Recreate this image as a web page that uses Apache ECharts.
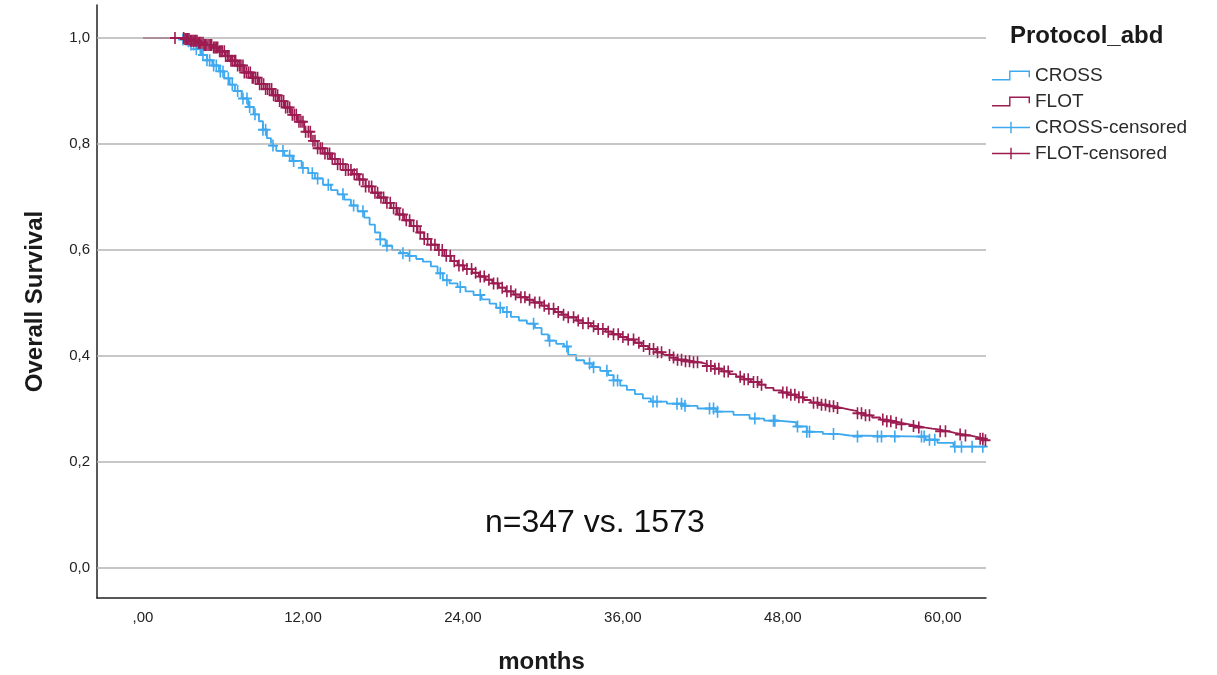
<!DOCTYPE html>
<html><head><meta charset="utf-8">
<script src="https://cdn.jsdelivr.net/npm/echarts@6/dist/echarts.min.js"></script>
<style>html,body{margin:0;padding:0;background:#fff}#c{width:1217px;height:675px}</style>
</head><body><div id="c"></div>
<script>
// ---- Data (months, survival) ----
const crossSurvival = [
[0,1],[2.9,0.997],[3.3,0.994],[3.6,0.988],[4.0,0.979],[4.4,0.968],[4.8,0.958],[5.2,0.948],[5.7,0.937],
[6.1,0.924],[6.5,0.912],[6.9,0.9],[7.4,0.886],[7.9,0.87],[8.3,0.856],[8.7,0.843],[9.0,0.827],[9.3,0.811],
[9.6,0.797],[10.0,0.787],[10.6,0.778],[11.2,0.768],[11.9,0.755],[12.4,0.745],[12.9,0.735],[13.5,0.723],
[14.1,0.713],[14.6,0.705],[15.1,0.695],[15.6,0.684],[16.1,0.673],[16.6,0.661],[17.0,0.648],[17.4,0.633],
[17.8,0.62],[18.2,0.608],[18.7,0.6],[19.3,0.594],[19.9,0.589],[20.5,0.583],[21.0,0.578],[21.6,0.569],
[22.1,0.556],[22.5,0.543],[23.0,0.537],[23.6,0.53],[24.2,0.522],[24.8,0.515],[25.4,0.507],[26.0,0.499],
[26.5,0.491],[27.0,0.483],[27.6,0.474],[28.2,0.467],[28.8,0.461],[29.4,0.453],[29.9,0.441],[30.4,0.429],
[31.0,0.423],[31.6,0.418],[31.9,0.402],[32.5,0.392],[33.1,0.386],[33.7,0.379],[34.3,0.372],[34.9,0.364],
[35.3,0.354],[35.8,0.344],[36.3,0.336],[36.9,0.328],[37.5,0.32],[38.1,0.314],[39.3,0.31],[40.5,0.306],
[41.6,0.301],[43.0,0.295],[44.3,0.289],[45.5,0.282],[46.6,0.278],[47.6,0.275],[49.0,0.267],[49.8,0.257],
[51.0,0.253],[52.1,0.25],[53.0,0.248],[58.7,0.242],[59.6,0.236],[60.8,0.229],[63.2,0.229]
];
const flotSurvival = [
[0,1],[3.1,0.998],[3.5,0.995],[4.1,0.991],[4.6,0.987],[5.2,0.982],[5.7,0.975],[6.2,0.966],[6.6,0.957],
[7.1,0.948],[7.6,0.935],[8.1,0.925],[8.7,0.913],[9.2,0.904],[9.7,0.892],[10.2,0.881],[10.6,0.869],
[11.1,0.855],[11.6,0.842],[12.1,0.823],[12.6,0.806],[13.1,0.792],[13.6,0.782],[14.1,0.772],[14.6,0.762],
[15.2,0.751],[15.7,0.743],[16.2,0.733],[16.7,0.72],[17.2,0.708],[17.7,0.699],[18.2,0.689],[18.6,0.679],
[19.1,0.667],[19.6,0.656],[20.1,0.645],[20.6,0.633],[21.1,0.621],[21.6,0.61],[22.1,0.6],[22.6,0.589],
[23.1,0.579],[23.6,0.571],[24.1,0.564],[24.7,0.557],[25.2,0.55],[25.7,0.544],[26.2,0.537],[26.7,0.529],
[27.2,0.522],[27.8,0.516],[28.3,0.511],[28.8,0.506],[29.3,0.501],[29.9,0.495],[30.4,0.489],[30.9,0.483],
[31.4,0.478],[31.9,0.473],[32.5,0.467],[33.0,0.462],[33.6,0.456],[34.1,0.451],[34.7,0.446],[35.2,0.441],
[35.8,0.436],[36.3,0.431],[36.9,0.425],[37.4,0.419],[37.9,0.413],[38.5,0.407],[39.0,0.402],[39.6,0.397],
[40.1,0.393],[40.7,0.39],[41.3,0.388],[41.8,0.385],[42.3,0.381],[42.9,0.376],[43.4,0.371],[44.0,0.366],
[44.5,0.361],[45.1,0.356],[45.6,0.351],[46.2,0.346],[46.7,0.34],[47.3,0.335],[47.9,0.331],[48.4,0.327],
[49.0,0.322],[49.6,0.317],[50.1,0.312],[50.7,0.308],[51.3,0.305],[51.9,0.302],[52.4,0.299],[53.0,0.296],
[53.6,0.292],[54.1,0.288],[54.7,0.284],[55.3,0.28],[55.8,0.277],[56.4,0.274],[56.9,0.271],[57.5,0.268],
[58.1,0.265],[58.7,0.263],[59.2,0.261],[59.8,0.258],[60.4,0.255],[60.9,0.252],[61.5,0.25],[62.1,0.247],
[62.6,0.244],[63.1,0.241],[63.2,0.241]
];
const crossCensoredTimes = [
3.0,3.2,3.4,3.6,3.8,4.0,4.3,4.5,4.8,5.0,5.3,5.5,5.8,6.0,6.4,6.7,7.1,7.5,7.8,8.0,8.4,9.0,9.2,9.75,10.5,
11.0,11.3,12.0,12.7,13.1,13.9,15.0,15.8,16.5,17.8,18.3,
19.5,20.0,22.3,22.8,23.8,25.3,26.8,27.3,29.3,30.5,31.8,33.5,33.8,34.8,35.3,35.6,
38.26,38.56,40.06,40.4,40.66,42.5,42.8,43.1,45.9,47.3,47.4,49.1,49.8,50.0,51.8,53.6,55.1,55.4,56.4,
58.4,58.6,59.0,59.4,60.9,61.4,62.2,63.0
];
const flotCensoredTimes = [
2.4,3.05,3.15,3.25,3.35,3.45,3.55,3.65,3.75,3.85,3.95,4.05,4.15,4.25,4.35,4.5,4.6,4.7,4.8,4.95,5.05,5.15,
5.3,5.4,5.5,5.6,5.75,5.85,5.95,6.1,6.2,6.35,6.45,6.6,6.7,6.85,6.95,7.1,7.25,7.35,7.5,7.6,7.75,7.9,8.05,
8.2,8.3,8.45,8.6,8.75,8.9,9.05,9.2,9.35,9.5,9.65,9.8,9.95,10.1,10.25,10.4,10.55,10.7,10.85,11.0,11.2,
11.35,11.5,11.7,11.85,12.0,12.2,12.4,12.55,12.75,12.9,13.1,13.3,13.45,13.65,13.85,14.0,14.2,14.4,14.6,
14.8,15.0,15.2,15.4,15.6,15.85,16.05,16.25,16.5,16.7,16.95,17.15,17.4,17.6,17.85,18.05,18.3,18.55,18.8,
19.0,19.25,19.5,19.75,20.0,20.3,20.55,20.8,21.1,21.35,21.6,21.9,22.2,22.45,22.75,23.05,23.35,23.7,24.0,
24.3,24.65,24.95,25.3,25.6,25.95,26.3,26.6,26.95,27.3,27.6,27.95,28.35,28.65,29.0,29.4,29.75,30.1,30.45,
30.8,31.15,31.55,31.9,32.3,32.65,33.0,33.4,33.8,34.15,34.5,34.9,35.3,35.65,36.0,36.4,36.8,37.2,37.55,
38.0,38.3,38.6,38.9,39.5,39.8,40.1,40.4,40.7,41.0,41.3,41.6,42.3,42.6,42.9,43.2,43.6,43.9,44.8,45.1,
45.4,45.8,46.1,46.4,48.0,48.3,48.6,48.9,49.2,49.5,50.3,50.6,50.9,51.2,51.5,51.8,52.1,53.6,53.9,54.2,
54.5,55.5,55.8,56.1,56.5,56.9,57.8,58.2,59.8,60.2,61.3,61.7,62.8,63.0,63.2
];
const yTicks = [0, 0.2, 0.4, 0.6, 0.8, 1.0];
const xTicks = [0, 12, 24, 36, 48, 60];
const groupNames = ['CROSS', 'FLOT', 'CROSS-censored', 'FLOT-censored'];
const legendTitle = 'Protocol_abd';
const annotationText = 'n=347 vs. 1573';

// ---- helpers ----
function survivalAt(curve, t) {
  let s = curve[0][1];
  for (const p of curve) { if (p[0] <= t) s = p[1]; else break; }
  return s;
}
const BLUE = '#3ea9ee', PURPLE = '#9c1c52';
const FONT = "'Liberation Sans', Arial, sans-serif";
const plusPath = 'path://M4.2,0H5.8V4.2H10V5.8H5.8V10H4.2V5.8H0V4.2H4.2Z';
const stepIcon = 'path://M0,10H18V1H40V8H38.5V2.5H19.5V11.5H0Z';
const plusIcon = 'path://M0,5.25H40V6.75H0Z M19.25,0H20.75V12H19.25Z';

const chart = echarts.init(document.getElementById('c'), null, {renderer: 'canvas'});
chart.setOption({
  animation: false,
  backgroundColor: '#fff',
  textStyle: {fontFamily: FONT},
  title: {text: legendTitle, left: 1005, top: 19,
    textStyle: {fontFamily: FONT, fontSize: 24, fontWeight: 'bold', color: '#1a1a1a'}},
  legend: {
    orient: 'vertical', left: 987, top: 61, itemWidth: 38, itemHeight: 12, itemGap: 7,
    textStyle: {fontFamily: FONT, fontSize: 19, color: '#2a2a2a'},
    data: [
      {name: groupNames[0], icon: stepIcon},
      {name: groupNames[1], icon: stepIcon},
      {name: groupNames[2], icon: plusIcon},
      {name: groupNames[3], icon: plusIcon}
    ]
  },
  grid: {left: 97, right: 231, top: 5, bottom: 77, containLabel: false, outerBoundsMode: 'none'},
  xAxis: {
    type: 'value', min: -3.45, max: 63.24,
    name: 'months', nameLocation: 'middle', nameGap: 52,
    nameTextStyle: {fontFamily: FONT, fontSize: 24, fontWeight: 'bold', color: '#1a1a1a'},
    axisLine: {show: true, onZero: false, lineStyle: {color: '#222', width: 1.5}},
    axisTick: {show: false},
    splitLine: {show: false},
    axisLabel: {customValues: xTicks, margin: 12, fontSize: 15, color: '#222', fontFamily: FONT,
      formatter: v => v === 0 ? ',00' : v.toFixed(2).replace('.', ',')}
  },
  yAxis: {
    type: 'value', min: -0.0566, max: 1.0623,
    name: 'Overall Survival', nameLocation: 'middle', nameGap: 50, nameRotate: 90,
    nameTextStyle: {fontFamily: FONT, fontSize: 24, fontWeight: 'bold', color: '#1a1a1a'},
    axisLine: {show: true, onZero: false, lineStyle: {color: '#222', width: 1.5}},
    axisTick: {show: false},
    splitLine: {show: false},
    axisLabel: {customValues: yTicks, margin: 7, fontSize: 15, color: '#222', fontFamily: FONT,
      formatter: v => v.toFixed(1).replace('.', ',')}
  },
  graphic: [{
    type: 'text', left: 485, top: 507,
    style: {text: annotationText, font: "32px 'Liberation Sans', Arial, sans-serif", fill: '#111'}
  }],
  series: [
    {type: 'line', name: '__grid', data: [], silent: true, z: 1,
      markLine: {silent: true, symbol: 'none', label: {show: false},
        lineStyle: {color: '#b5b5b5', width: 1.5, type: 'solid'},
        data: yTicks.map(v => ({yAxis: v}))}},
    {type: 'line', name: groupNames[0], step: 'end', data: crossSurvival, showSymbol: false, z: 3,
      color: BLUE, lineStyle: {color: BLUE, width: 1.8}, itemStyle: {color: BLUE}},
    {type: 'line', name: groupNames[1], step: 'end', data: flotSurvival, showSymbol: false, z: 4,
      color: PURPLE, lineStyle: {color: PURPLE, width: 1.8}, itemStyle: {color: PURPLE}},
    {type: 'scatter', name: groupNames[2], symbol: plusPath, symbolSize: [10, 12], z: 5,
      itemStyle: {color: BLUE, opacity: 1},
      data: crossCensoredTimes.map(t => [t, survivalAt(crossSurvival, t)])},
    {type: 'scatter', name: groupNames[3], symbol: plusPath, symbolSize: [10, 12], z: 6,
      itemStyle: {color: PURPLE, opacity: 1},
      data: flotCensoredTimes.map(t => [t, survivalAt(flotSurvival, t)])}
  ]
});
</script>
</body></html>
